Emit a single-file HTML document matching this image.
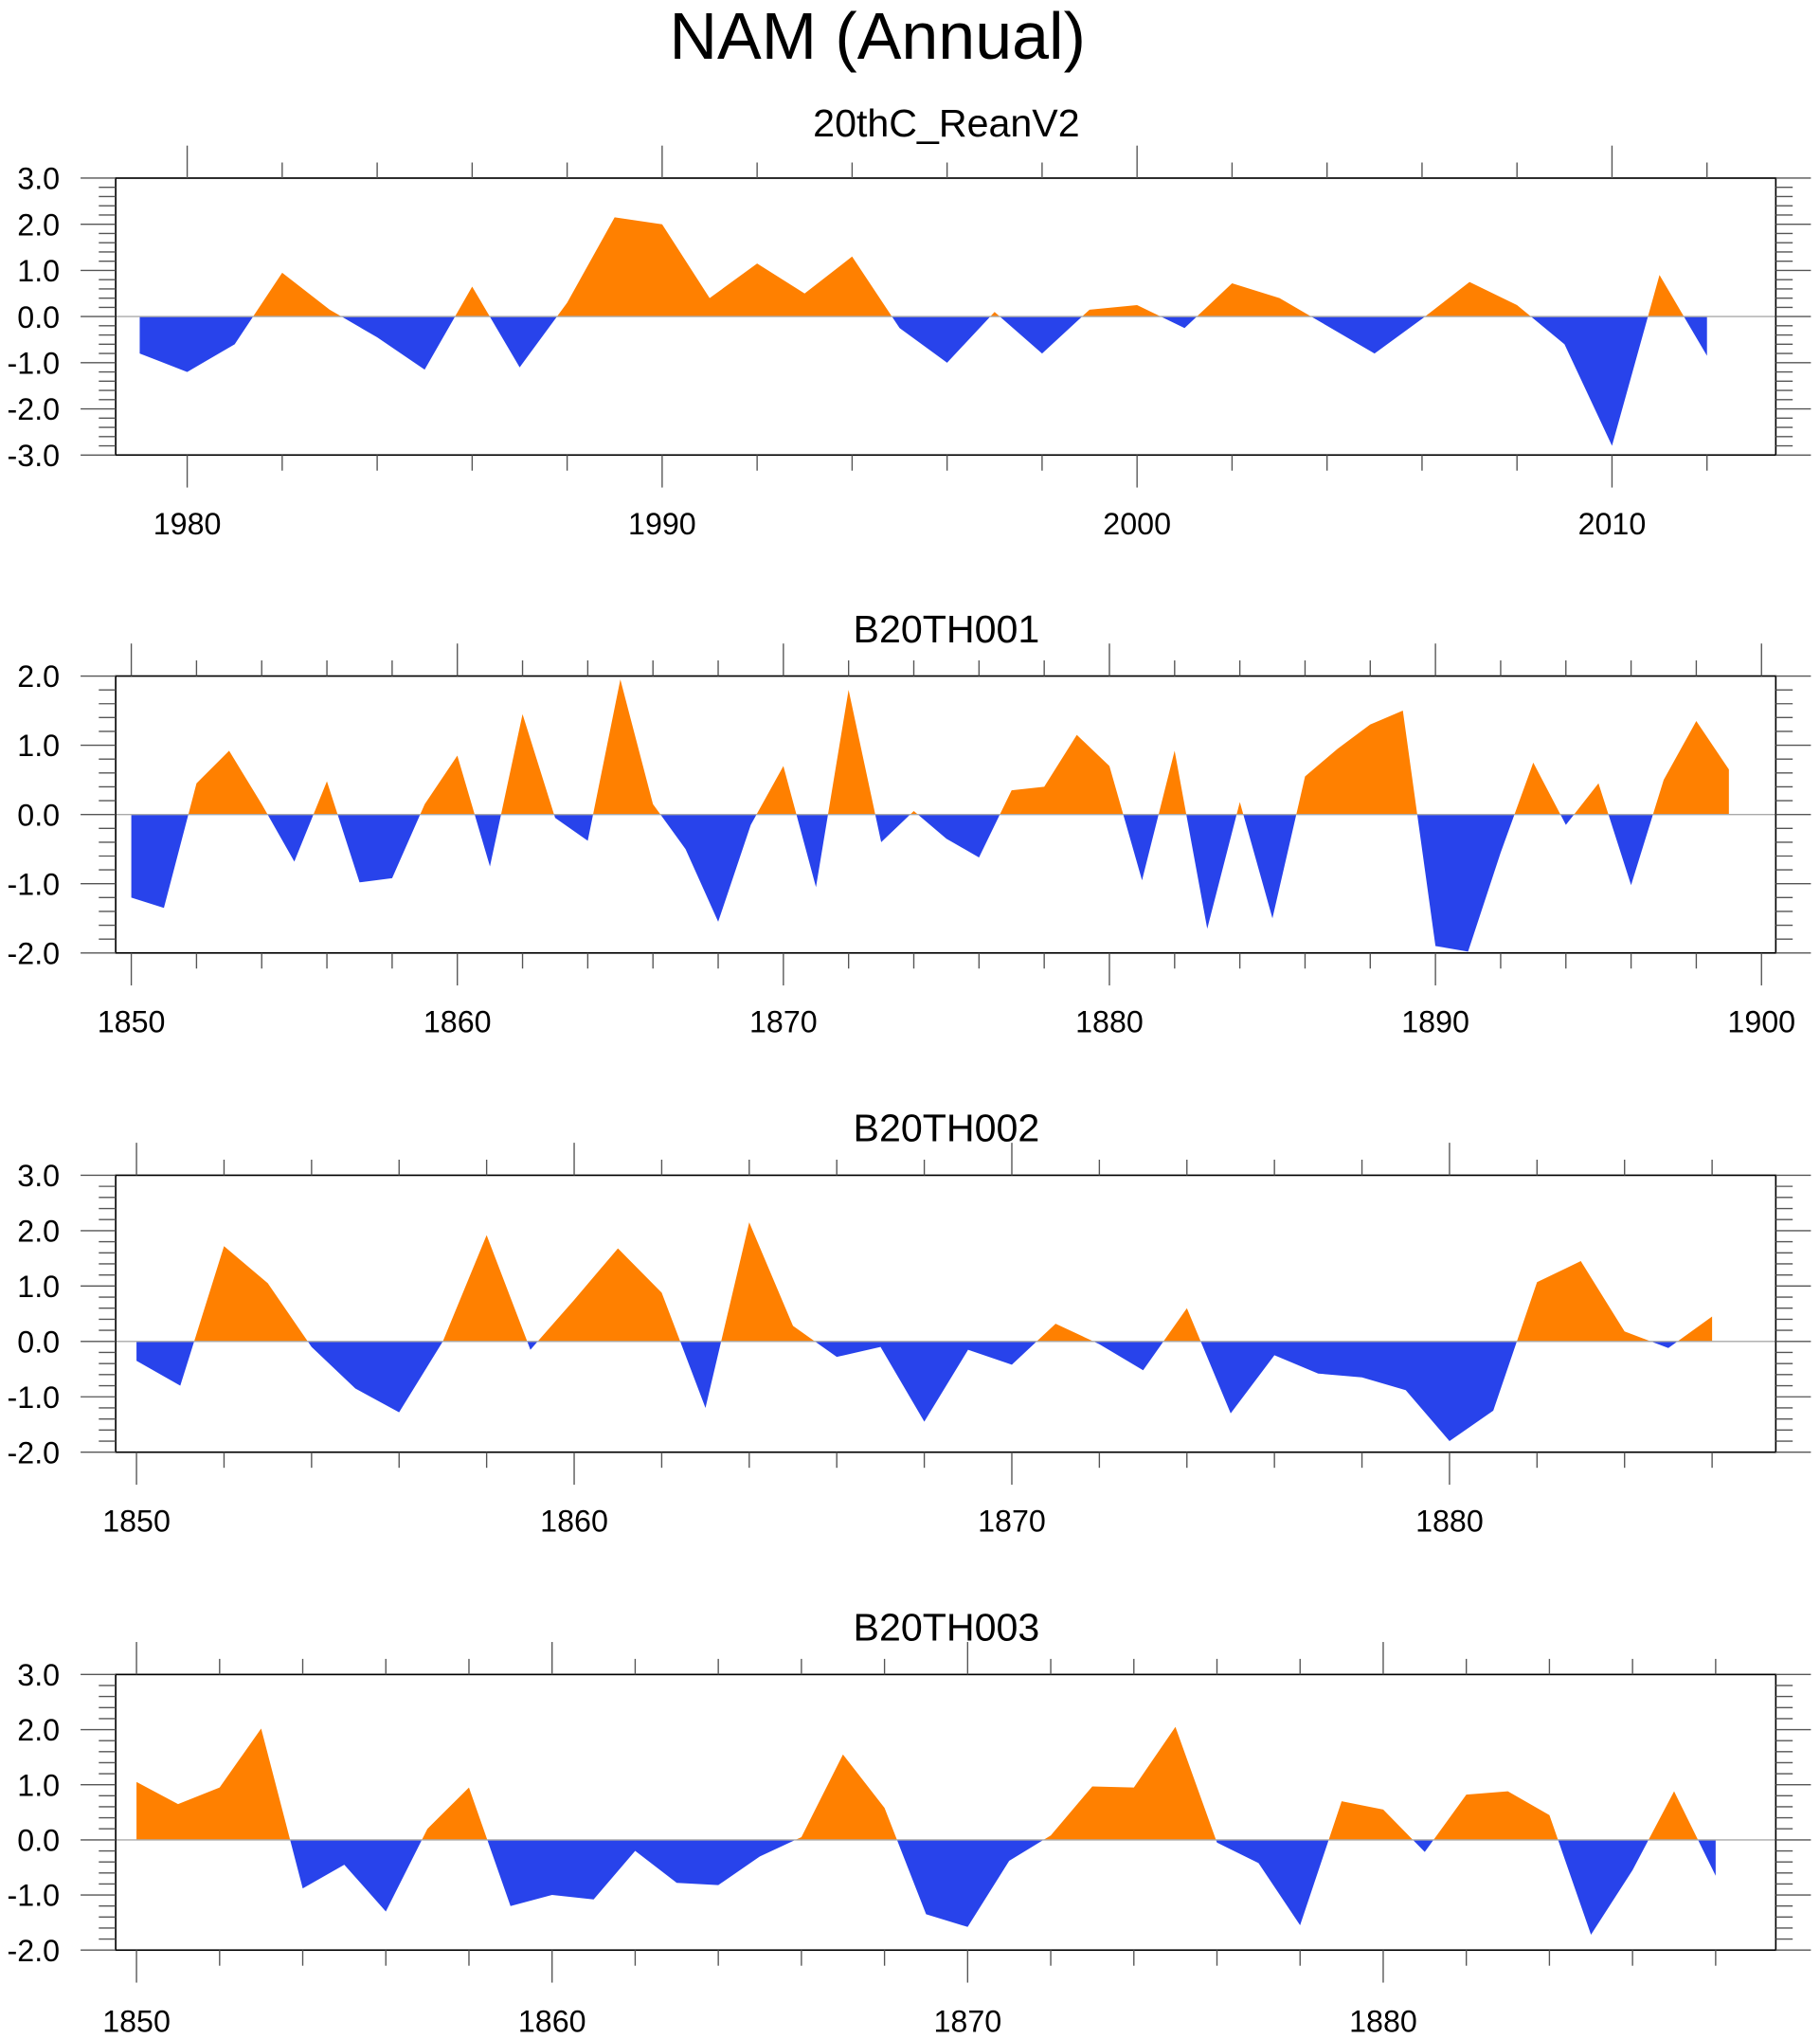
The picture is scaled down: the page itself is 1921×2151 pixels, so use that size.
<!DOCTYPE html>
<html><head><meta charset="utf-8"><style>
html,body{margin:0;padding:0;background:#fff;}
svg{display:block;font-family:"Liberation Sans",sans-serif;}
</style></head><body>
<svg id="chart" width="1921" height="2151" viewBox="0 0 1400 1567.6" preserveAspectRatio="none" xmlns="http://www.w3.org/2000/svg">
<text x="675" y="45" font-size="51" text-anchor="middle" fill="#000">NAM (Annual)</text>
</svg>
<script>
// Panel 1: 20thC_ReanV2
const years1 = [1979,1980,1981,1982,1983,1984,1985,1986,1987,1988,1989,1990,1991,1992,1993,1994,1995,1996,1997,1998,1999,2000,2001,2002,2003,2004,2005,2006,2007,2008,2009,2010,2011,2012];
const values1 = [-0.8,-1.2,-0.6,0.95,0.15,-0.45,-1.15,0.65,-1.1,0.3,2.15,2.0,0.4,1.15,0.5,1.3,-0.25,-1.0,0.1,-0.8,0.15,0.25,-0.25,0.72,0.4,-0.2,-0.8,-0.05,0.75,0.25,-0.6,-2.8,0.9,-0.85];
const xticks1 = [1980,1990,2000,2010];
// Panel 2: B20TH001
const start2 = 1850;
const values2 = [-1.2,-1.35,0.45,0.92,0.15,-0.68,0.48,-0.98,-0.92,0.15,0.85,-0.75,1.45,-0.05,-0.38,1.95,0.15,-0.5,-1.55,-0.15,0.7,-1.05,1.8,-0.4,0.05,-0.35,-0.62,0.35,0.4,1.15,0.7,-0.95,0.92,-1.65,0.18,-1.5,0.55,0.95,1.3,1.5,-1.9,-1.98,-0.55,0.75,-0.15,0.45,-1.02,0.5,1.35,0.65];
const xticks2 = [1850,1860,1870,1880,1890,1900];
// Panel 3: B20TH002
const start3 = 1850;
const values3 = [-0.35,-0.8,1.72,1.05,-0.1,-0.85,-1.28,0.0,1.92,-0.15,0.75,1.68,0.88,-1.2,2.15,0.28,-0.28,-0.1,-1.45,-0.15,-0.42,0.32,-0.05,-0.52,0.6,-1.3,-0.25,-0.58,-0.65,-0.88,-1.8,-1.25,1.07,1.45,0.18,-0.12,0.45];
const xticks3 = [1850,1860,1870,1880];
// Panel 4: B20TH003
const start4 = 1850;
const values4 = [1.05,0.65,0.95,2.02,-0.88,-0.45,-1.3,0.2,0.95,-1.2,-1.0,-1.08,-0.2,-0.78,-0.82,-0.3,0.05,1.55,0.58,-1.35,-1.58,-0.38,0.08,0.97,0.95,2.05,-0.05,-0.42,-1.55,0.7,0.55,-0.22,0.82,0.88,0.45,-1.72,-0.55,0.88,-0.65];
const xticks4 = [1850,1860,1870,1880];
const yticksA = ["3.0","2.0","1.0","0.0","-1.0","-2.0","-3.0"];
const yticksB = ["2.0","1.0","0.0","-1.0","-2.0"];
const yticksC = ["3.0","2.0","1.0","0.0","-1.0","-2.0"];

const NS = "http://www.w3.org/2000/svg";
const svg = document.getElementById('chart');
function mk(tag, attrs, parent){const e=document.createElementNS(NS,tag);for(const k in attrs)e.setAttribute(k,attrs[k]);(parent||svg).appendChild(e);return e;}

let clipId=0;
function panel(cfg){
  const {title,years,values,xticks,yticks,ymin,ymax,top,bot,x0y,x0,x1y,x1,titleY,labY,name}=cfg;
  const L=89,R=1366;
  const g=mk('g',{});
  
  
  const sx=y=>x0+(y-x0y)*(x1-x0)/(x1y-x0y);
  const sy=v=>bot-(v-ymin)*(bot-top)/(ymax-ymin);
  const t=mk('text',{x:728,y:titleY,'font-size':30,'text-anchor':'middle',fill:'#000'},g);
  t.textContent=title;
  
  
  const z=sy(0);
  let d='M'+sx(years[0])+','+z;
  years.forEach((yr,i)=>{d+=' L'+sx(yr)+','+sy(values[i]);});
  d+=' L'+sx(years[years.length-1])+','+z+' Z';
  const id1='c'+(clipId++), id2='c'+(clipId++);
  const defs=mk('defs',{},g);
  const c1=mk('clipPath',{id:id1},defs); mk('rect',{x:L,y:top,width:R-L,height:z-top},c1);
  const c2=mk('clipPath',{id:id2},defs); mk('rect',{x:L,y:z,width:R-L,height:bot-z},c2);
  const pos=mk('path',{d:d,fill:'#ff8000','clip-path':'url(#'+id1+')'},g);
  
  
  const neg=mk('path',{d:d,fill:'#2843eb','clip-path':'url(#'+id2+')'},g);
  
  
  const zl=mk('line',{x1:L,x2:R,y1:z,y2:z,stroke:'#aaa','stroke-width':1},g);
  
  
  const fr=mk('rect',{x:L,y:top,width:R-L,height:bot-top,fill:'none',stroke:'#000','stroke-width':1.2},g);
  
  
  const yrStart=Math.ceil(((L-x0)*(x1y-x0y)/(x1-x0)+x0y)/2)*2;
  for(let yr=yrStart; sx(yr)<=R; yr+=2){
    const X=sx(yr); if(X<L) continue;
    const major=xticks.includes(yr);
    const len=major?25:12;
    mk('line',{x1:X,x2:X,y1:top,y2:top-len,stroke:'#555','stroke-width':1},g);
    mk('line',{x1:X,x2:X,y1:bot,y2:bot+len,stroke:'#555','stroke-width':1},g);
  }
  xticks.forEach(yr=>{
    const tx=mk('text',{x:sx(yr),y:labY,'font-size':23.5,'text-anchor':'middle',fill:'#000'},g);
    tx.textContent=yr;
    
    
  });
  for(let k=0;k<=(ymax-ymin)*5;k++){
    const v=ymin+k*0.2; const Y=sy(v);
    const major=k%5===0;
    const len=major?27:13;
    mk('line',{x1:L,x2:L-len,y1:Y,y2:Y,stroke:'#555','stroke-width':1},g);
    mk('line',{x1:R,x2:R+len,y1:Y,y2:Y,stroke:'#555','stroke-width':1},g);
  }
  yticks.forEach(s=>{
    const ty=mk('text',{x:46,y:sy(parseFloat(s))+8.5,'font-size':23.5,'text-anchor':'end',fill:'#000'},g);
    ty.textContent=s;
    
    
  });
}
const seq=(s,n)=>Array.from({length:n},(_,i)=>s+i);
panel({name:'reanv2',title:'20thC_ReanV2',years:years1,values:values1,xticks:xticks1,yticks:yticksA,ymin:-3,ymax:3,top:137,bot:350,x0y:1980,x0:144,x1y:2010,x1:1240,titleY:105,labY:411});
panel({name:'b20th001',title:'B20TH001',years:seq(start2,values2.length),values:values2,xticks:xticks2,yticks:yticksB,ymin:-2,ymax:2,top:520,bot:733,x0y:1850,x0:101,x1y:1900,x1:1355,titleY:494,labY:794});
panel({name:'b20th002',title:'B20TH002',years:seq(start3,values3.length),values:values3,xticks:xticks3,yticks:yticksC,ymin:-2,ymax:3,top:904,bot:1117,x0y:1850,x0:105,x1y:1880,x1:1115,titleY:878,labY:1178});
panel({name:'b20th003',title:'B20TH003',years:seq(start4,values4.length),values:values4,xticks:xticks4,yticks:yticksC,ymin:-2,ymax:3,top:1288,bot:1500,x0y:1850,x0:105,x1y:1880,x1:1064,titleY:1262,labY:1563});
</script>
</body></html>
